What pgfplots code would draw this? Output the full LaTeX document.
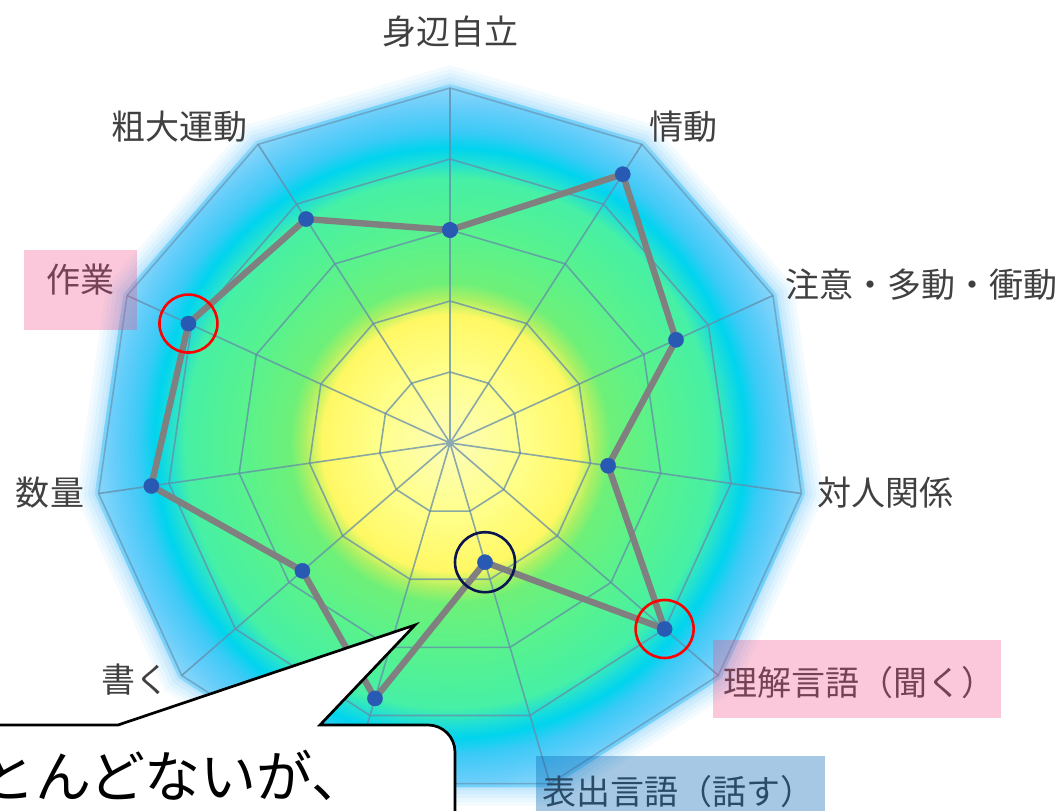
\documentclass[border=0pt]{standalone}
\usepackage{pgfplots}
\pgfplotsset{compat=1.18}
\usepackage{pgfplotstable}
\usepackage{fontspec}
\setmainfont{Noto Sans CJK JP}

\definecolor{c0}{RGB}{252,252,185}
\definecolor{c1}{RGB}{255,255,140}
\definecolor{c2}{RGB}{255,248,100}
\definecolor{c3}{RGB}{170,240,100}
\definecolor{c4}{RGB}{110,240,120}
\definecolor{c5}{RGB}{90,242,140}
\definecolor{c6}{RGB}{70,240,165}
\definecolor{c7}{RGB}{30,222,215}
\definecolor{c8}{RGB}{0,212,238}
\definecolor{c9}{RGB}{60,202,246}
\definecolor{c10}{RGB}{100,205,250}
\definecolor{c11}{RGB}{135,214,250}
\definecolor{c12}{RGB}{215,238,252}
\definecolor{glowc}{RGB}{150,215,250}
\definecolor{gridc}{RGB}{100,140,170}
\definecolor{linec}{RGB}{128,128,128}
\definecolor{dotc}{RGB}{40,90,180}
\definecolor{navyc}{RGB}{10,20,80}
\definecolor{labelc}{RGB}{64,64,64}
\definecolor{pinkov}{RGB}{238,72,132}
\definecolor{blueov}{RGB}{0,98,178}

\pgfdeclareradialshading{radar}{\pgfpointorigin}{%
color(0bp)=(c0); color(4.56bp)=(c1); color(8.35bp)=(c2); color(9.45bp)=(c3);
color(10.43bp)=(c4); color(13.37bp)=(c5); color(17.28bp)=(c6); color(18.39bp)=(c7);
color(19.24bp)=(c8); color(20.34bp)=(c9); color(21.84bp)=(c10); color(23.15bp)=(c11);
color(24.13bp)=(c12); color(25bp)=(white); color(50bp)=(white)}

\newcommand\poly[1]{(90:#1) -- (57.2727:#1) -- (24.5455:#1) -- (-8.1818:#1) -- (-40.9091:#1) -- (-73.6364:#1) -- (-106.3636:#1) -- (-139.0909:#1) -- (-171.8182:#1) -- (155.4545:#1) -- (122.7273:#1) -- cycle}

% radar data: angle (deg), value (outer ring = 5)
\pgfplotstableread{
angle value
90 3.00
57.2727 4.50
24.5455 3.50
-8.1818 2.25
-40.9091 4.00
-73.6364 1.75
-106.3636 3.75
-139.0909 2.75
-171.8182 4.25
-204.5455 4.05
-237.2727 3.75
-270 3.00
}\radardata

\pgfplotstableread{
a r
90 1
57.2727 1
24.5455 1
-8.1818 1
-40.9091 1
-73.6364 1
-106.3636 1
-139.0909 1
-171.8182 1
-204.5455 1
-237.2727 1
-270 1
}\ringangles

\pgfplotstableread{
a r
90 5
0 0
57.2727 5
0 0
24.5455 5
0 0
-8.1818 5
0 0
-40.9091 5
0 0
-73.6364 5
0 0
-106.3636 5
0 0
-139.0909 5
0 0
-171.8182 5
0 0
155.4545 5
0 0
122.7273 5
}\spokes

\begin{document}
\begin{tikzpicture}
\useasboundingbox (0,0) rectangle (532pt,405pt);
\begin{scope}[shift={(225pt,183.5pt)}]
  \fill[glowc, opacity=0.10] \poly{189pt};
  \fill[glowc, opacity=0.12] \poly{187pt};
  \fill[glowc, opacity=0.15] \poly{185pt};
  \fill[glowc, opacity=0.2] \poly{183pt};
  \fill[glowc, opacity=0.25] \poly{181pt};
  \begin{scope}
    \clip \poly{179.5pt};
    \shade[shading=radar] (-191.7pt,-191.7pt) rectangle (191.7pt,191.7pt);
  \end{scope}
\end{scope}
\begin{axis}[
  x=35.5pt, y=35.5pt,
  xmin=-6, xmax=6, ymin=-6, ymax=6,
  hide axis, clip=false,
  anchor=origin, at={(225pt,183.5pt)},
]
\addplot[gridc, opacity=0.75, line width=0.8pt, data cs=polar, no marks] table[x=a, y=r] {\spokes};
\addplot[gridc, opacity=0.75, line width=0.8pt, data cs=polar, no marks] table[x=a, y expr=1*\thisrow{r}] {\ringangles};
\addplot[gridc, opacity=0.75, line width=0.8pt, data cs=polar, no marks] table[x=a, y expr=2*\thisrow{r}] {\ringangles};
\addplot[gridc, opacity=0.75, line width=0.8pt, data cs=polar, no marks] table[x=a, y expr=3*\thisrow{r}] {\ringangles};
\addplot[gridc, opacity=0.75, line width=0.8pt, data cs=polar, no marks] table[x=a, y expr=4*\thisrow{r}] {\ringangles};
\addplot[gridc, opacity=0.6, line width=0.8pt, data cs=polar, no marks] table[x=a, y expr=5*\thisrow{r}] {\ringangles};
\addplot[linec, line width=3.2pt, line join=round, data cs=polar, no marks] table[x=angle, y=value] {\radardata};
\addplot[only marks, data cs=polar, mark=*, mark size=3.8pt,
  mark options={fill=dotc, draw=dotc, line width=0.2pt}] table[x=angle, y=value] {\radardata};
\addplot[only marks, data cs=polar, mark=o, mark size=14.5pt,
  mark options={draw=red, line width=1.3pt, fill=none}] coordinates {(155.4545,4.05) (-40.9091,4.00)};
\addplot[only marks, data cs=polar, mark=o, mark size=15pt,
  mark options={draw=navyc, line width=1.3pt, fill=none}] coordinates {(-73.6364,1.75)};
\end{axis}

\begin{scope}[every node/.style={text=labelc, font=\fontsize{17pt}{20pt}\selectfont, inner sep=0pt}]
\node at (225pt,389pt) {身辺自立};
\node at (341.5pt,341.5pt) {情動};
\node at (460.5pt,262.5pt) {注意・多動・衝動};
\node at (442.5pt,158.5pt) {対人関係};
\node at (429.5pt,63.5pt) {理解言語（聞く）};
\node at (339pt,9pt) {表出言語（話す）};
\node at (67.5pt,65pt) {書く};
\node at (25pt,158.5pt) {数量};
\node at (40pt,265pt) {作業};
\node at (89.5pt,341.5pt) {粗大運動};
\end{scope}

\fill[pinkov, opacity=0.3] (12pt,240pt) rectangle (68.5pt,280pt);
\fill[pinkov, opacity=0.3] (356.5pt,46pt) rectangle (500.5pt,85pt);
\fill[blueov, opacity=0.35] (268pt,-2pt) rectangle (412.5pt,27pt);

\draw[black, line width=1.35pt, fill=white, line join=miter]
  (-10pt,42.5pt) -- (59pt,42.5pt) -- (207.5pt,92.5pt) -- (160pt,42.5pt) -- (214pt,42.5pt)
  arc[start angle=90, end angle=0, radius=13.5pt] -- (227.5pt,-10pt) -- (-10pt,-10pt) -- cycle;
\node[anchor=west, inner sep=0pt, font=\fontsize{28pt}{32pt}\selectfont, text=black] at (-38.5pt,17.5pt) {ほとんどないが、};
\end{tikzpicture}
\end{document}
